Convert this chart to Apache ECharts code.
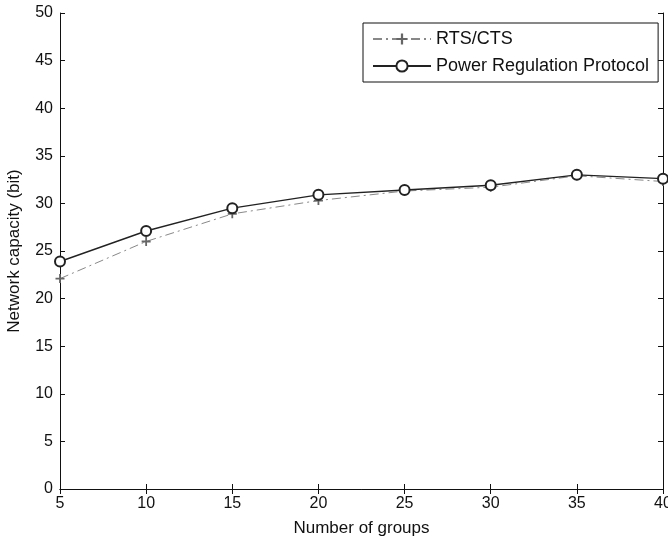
<!DOCTYPE html>
<html>
<head>
<meta charset="utf-8">
<script src="https://cdn.jsdelivr.net/npm/echarts@6/dist/echarts.min.js"></script>
<style>html,body{margin:0;padding:0;background:#fff}#c{width:668px;height:544px}</style>
</head>
<body>
<div id="c"></div>
<script>
var groups = [5, 10, 15, 20, 25, 30, 35, 40];
var rtsCts = [22.1, 26.0, 28.9, 30.3, 31.3, 31.7, 32.9, 32.3];
var powerReg = [23.9, 27.1, 29.5, 30.9, 31.4, 31.9, 33.0, 32.6];
var seriesNames = ['RTS/CTS', 'Power Regulation Protocol'];
var xName = 'Number of groups';
var yName = 'Network capacity (bit)';

function pairs(xs, ys) { return xs.map(function (x, i) { return [x, ys[i]]; }); }

var font = 'Liberation Sans, Arial, sans-serif';
var chart = echarts.init(document.getElementById('c'), null, { renderer: 'canvas' });
var axisCommon = {
  axisLine: { show: true, lineStyle: { color: '#111', width: 1 } },
  axisTick: { show: true, inside: true, length: 5, lineStyle: { color: '#111' } },
  splitLine: { show: false }
};
chart.setOption({
  backgroundColor: '#fff',
  animation: false,
  textStyle: { fontFamily: font },
  grid: { left: 60, right: 5, top: 13, bottom: 55, containLabel: false, outerBoundsMode: 'none' },
  legend: {
    orient: 'vertical', left: 363, top: 23,
    data: seriesNames,
    itemWidth: 58, itemHeight: 14, itemGap: 9,
    padding: [7, 9, 7, 9],
    borderColor: '#111', borderWidth: 1, backgroundColor: '#fff',
    textStyle: { fontSize: 18, color: '#111', fontFamily: font }
  },
  xAxis: [
    Object.assign({
      type: 'value', min: 5, max: 40, interval: 5, position: 'bottom',
      name: xName, nameLocation: 'middle', nameGap: 31,
      nameTextStyle: { fontSize: 17, color: '#111' },
      axisLabel: { fontSize: 16, color: '#111', margin: 7 }
    }, axisCommon),
    Object.assign({
      type: 'value', min: 5, max: 40, interval: 5, position: 'top',
      axisLabel: { show: false }
    }, axisCommon)
  ],
  yAxis: [
    Object.assign({
      type: 'value', min: 0, max: 50, interval: 5, position: 'left',
      name: yName, nameLocation: 'middle', nameGap: 37,
      nameTextStyle: { fontSize: 17, color: '#111' },
      axisLabel: { fontSize: 16, color: '#111', margin: 7 }
    }, axisCommon),
    Object.assign({
      type: 'value', min: 0, max: 50, interval: 5, position: 'right',
      axisLabel: { show: false }
    }, axisCommon)
  ],
  series: [
    {
      name: seriesNames[0], type: 'line', xAxisIndex: 0, yAxisIndex: 0,
      data: pairs(groups, rtsCts),
      symbol: 'path://M4,0H6V4H10V6H6V10H4V6H0V4H4Z', symbolSize: 9,
      itemStyle: { color: '#666' },
      lineStyle: { color: '#888', width: 1, type: [9, 4, 2, 4] },
      z: 2
    },
    {
      name: seriesNames[1], type: 'line', xAxisIndex: 0, yAxisIndex: 0,
      data: pairs(groups, powerReg),
      symbol: 'emptyCircle', symbolSize: 10,
      itemStyle: { color: '#222', borderColor: '#222', borderWidth: 1.3 },
      lineStyle: { color: '#222', width: 1.4 },
      z: 3
    }
  ]
});
</script>
</body>
</html>
